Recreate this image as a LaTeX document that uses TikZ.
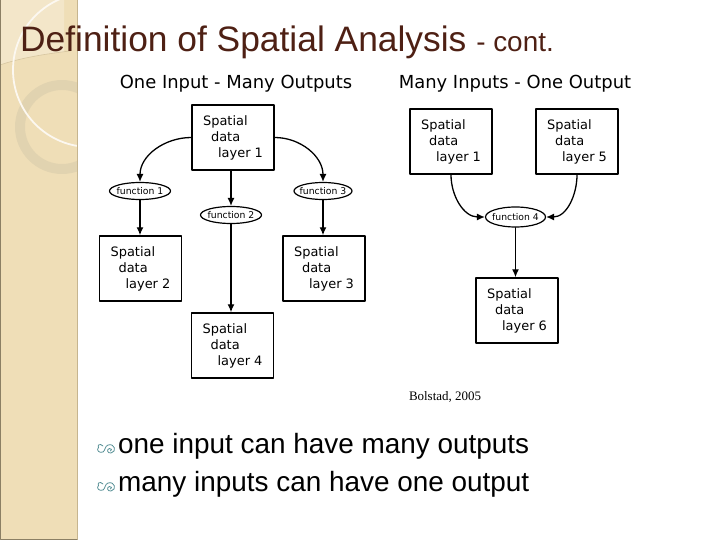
\documentclass[tikz,border=0pt]{standalone}
\usepackage{fontspec}
\setmainfont{Liberation Sans}
\newfontfamily\sketchfont{DejaVu Sans}
\newfontfamily\citefont{Liberation Serif}
\usetikzlibrary{shapes.geometric,arrows.meta}
\definecolor{bandfill}{RGB}{239,222,183}
\definecolor{bandedge}{RGB}{198,181,143}
\definecolor{ringcol}{RGB}{225,211,176}
\definecolor{titlebrown}{RGB}{78,32,20}
\definecolor{bulletteal}{RGB}{84,142,148}
\newcommand{\layertext}[1]{Spatial\\\hspace*{8bp}data\\\hspace*{15bp}layer #1}
\newcommand{\functext}[1]{\makebox[36bp][c]{function #1}}
\tikzset{
  layerbox/.style={draw,line width=1.5pt,minimum width=82bp,minimum height=65bp,
    inner sep=0pt,align=left,font=\sketchfont\fontsize{13}{16}\selectfont},
  funcnode/.style={draw,ellipse,line width=1.2pt,minimum width=61bp,minimum height=17bp,
    inner sep=0pt,font=\sketchfont\fontsize{9.3}{10}\selectfont},
  flow/.style={line width=1.3pt,-{Latex[length=8bp,width=7bp]}},
  header/.style={font=\sketchfont\fontsize{18}{20}\selectfont},
  point/.style={anchor=base west,inner sep=0pt,font=\fontsize{28}{32}\selectfont},
  curlbullet/.pic={
    \draw[bulletteal,line width=0.8pt]
      (6,-7) .. controls (3,-10) and (0,-8) .. (1.5,-5.5)
      .. controls (-1,-3) and (2,0.5) .. (6,-1)
      .. controls (8,-2) and (8,-7) .. (11,-8)
      .. controls (18,-10) and (20,-1) .. (14,0)
      .. controls (10,0.5) and (9.5,-4) .. (12.5,-4.5)
      .. controls (14.5,-5) and (15.5,-2.5) .. (13.5,-2);
  }
}
\begin{document}
\begin{tikzpicture}[x=1bp,y=-1bp,line cap=round,line join=round,>=latex]
  \useasboundingbox (0,0) rectangle (720,540);
  % left band of the slide
  \fill[bandfill] (0,0) rectangle (77,540);
  \begin{scope}
    \clip (0,0) rectangle (77,540);
    \fill[white!25!bandfill] (0,0) -- (0,65) .. controls (20,58) and (45,54) .. (64,52) -- (64,0) -- cycle;
    \draw[bandedge!60!bandfill,line width=0.6pt] (0,65) .. controls (20,58) and (45,54) .. (70,51);
    \draw[ringcol,line width=10pt] (62,127) circle (42);
    \draw[white!80!bandfill,line width=1.8pt] (90,70) circle (77);
  \end{scope}
  \draw[bandedge,line width=1.5pt] (77.5,0) -- (77.5,540);
  \draw[bandedge!70!black,line width=0.8pt] (0.4,0) -- (0.4,539.6) -- (77,539.6);
  % title
  \node[anchor=base west,inner sep=0pt,text=titlebrown,font=\fontsize{35.5}{40}\selectfont] (title)
    at (20,52) {Definition of Spatial Analysis \fontsize{28}{30}\selectfont- cont.};
  % one input - many outputs
  \node[header] (headone) at (236,84) {One Input - Many Outputs};
  \node[layerbox] (layer1) at (233,137.5) {\layertext{1}};
  \node[funcnode] (func1) at (140,191) {\functext{1}};
  \node[funcnode] (func2) at (231,215) {\functext{2}};
  \node[funcnode,minimum width=58bp] (func3) at (323,191) {\functext{3}};
  \node[layerbox] (layer2) at (140.5,268.5) {\layertext{2}};
  \node[layerbox] (layer3) at (324,268.5) {\layertext{3}};
  \node[layerbox] (layer4) at (232.5,345.5) {\layertext{4}};
  \draw[flow] (layer1.west) to[out=180,in=90] (func1.north);
  \draw[flow] (layer1.east) to[out=0,in=90] (func3.north);
  \draw[flow] (layer1.south -| func2.north) -- (func2.north);
  \draw[flow] (func1.south) -- (func1.south |- layer2.north);
  \draw[flow] (func3.south) -- (func3.south |- layer3.north);
  \draw[flow] (func2.south) -- (func2.south |- layer4.north);
  % many inputs - one output
  \node[header] (headtwo) at (515,84) {Many Inputs - One Output};
  \node[layerbox] (layer1b) at (451,141.5) {\layertext{1}};
  \node[layerbox] (layer5) at (577,141.5) {\layertext{5}};
  \node[funcnode,minimum width=60bp,minimum height=20bp] (func4) at (515.5,217) {\functext{4}};
  \node[layerbox] (layer6) at (517,310.5) {\layertext{6}};
  \draw[flow] (layer1b.south) to[out=-90,in=180] (func4.west);
  \draw[flow] (layer5.south) to[out=-90,in=0] (func4.east);
  \draw[flow] (func4.south) -- (func4.south |- layer6.north);
  \node[anchor=base,font=\citefont\fontsize{13}{15}\selectfont] (cite) at (445,400) {Bolstad, 2005};
  % bullet points
  \pic at (97,453) {curlbullet};
  \node[point] (pointone) at (118,453) {one input can have many outputs};
  \pic at (97,491) {curlbullet};
  \node[point] (pointtwo) at (118,491) {many inputs can have one output};
\end{tikzpicture}
\end{document}
